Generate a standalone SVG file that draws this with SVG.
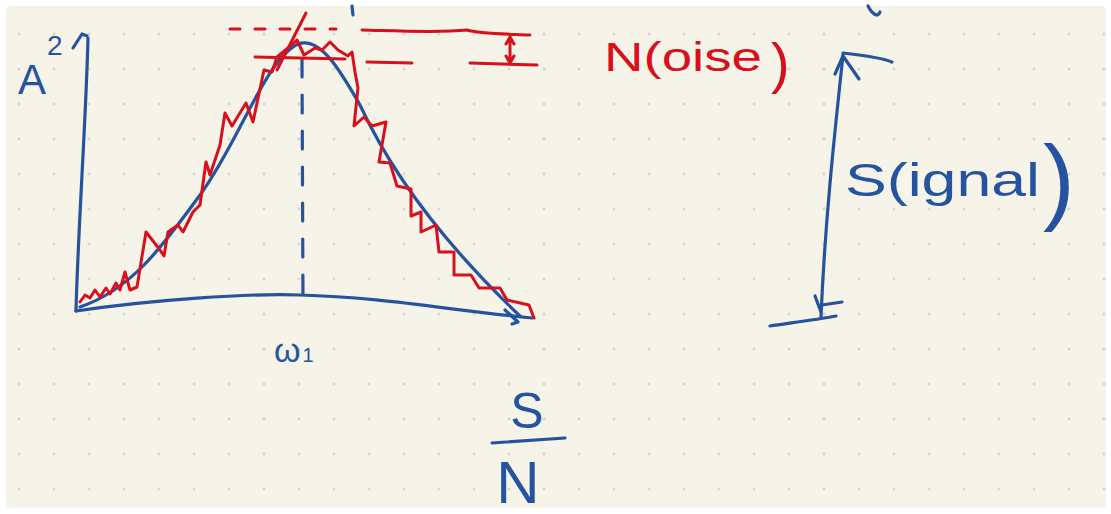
<svg xmlns="http://www.w3.org/2000/svg" width="1111" height="514" viewBox="0 0 1111 514">
<defs>
<pattern id="dots" x="1.5" y="16.5" width="35" height="35" patternUnits="userSpaceOnUse">
<circle cx="17.5" cy="17.5" r="1.2" fill="#c9c8bd"/>
</pattern>
<style>
.b{fill:none;stroke:#2553a0;stroke-width:3.2;stroke-linecap:round;stroke-linejoin:round}
.r{fill:none;stroke:#d8101c;stroke-width:3;stroke-linecap:round;stroke-linejoin:round}
.tb{fill:#2553a0;font-family:"Liberation Sans","DejaVu Sans",sans-serif}
.tr{fill:#d8101c;font-family:"Liberation Sans","DejaVu Sans",sans-serif}
</style>
</defs>
<rect width="1111" height="514" fill="#ffffff"/>
<rect x="6" y="6" width="1100" height="502" rx="4" fill="#f6f4e8"/>
<rect x="6" y="6" width="1100" height="502" fill="url(#dots)"/>

<g id="axes">
<path class="b" d="M88,38 C86,120 78,230 76,311"/>
<path class="b" d="M73,48 L82,34 L87,36"/>
<path class="b" d="M76,311 C150,300 250,293 300,295 C380,297 450,310 532,318"/>
<path class="b" d="M505,310 L518,322 L512,324"/>
<path class="b" d="M302,59 L303,305" stroke-dasharray="18 18"/>
<path class="b" d="M352,6 L353,15"/>
<path class="b" d="M868,6 C872,14 878,18 880,12"/>
</g>

<g id="signal-curve">
<path class="b" d="M80,307 C130,290 160,250 200,195 C240,140 265,60 298,44 C320,36 340,70 360,105 C390,170 440,240 520,316"/>
</g>

<g id="noisy-curve">
<path class="r" d="M80,302 L85,295 L90,298 L95,290 L100,297 L106,288 L110,294 L116,283 L120,290 L125,272 L130,290 L137,287 L146,232 L160,250 L164,256 L168,232 L178,225 L183,232 L193,212 L200,205 L206,162 L210,175 L220,145 L225,113 L232,126 L246,103 L253,122 L264,70 L272,72 L277,57 L288,48 L297,40 L304,55 L315,48 L322,50 L330,42 L338,50 L348,56 L352,52 L355,72 L358,88 L354,126 L364,117 L372,126 L386,122 L379,162 L390,163 L397,186 L411,189 L411,216 L421,212 L421,232 L436,225 L439,252 L454,252 L454,275 L471,275 L479,288 L500,288 L507,300 L529,305 L534,318"/>
<path class="r" d="M277,70 L306,13"/>
</g>

<g id="noise-band">
<path class="r" d="M230,29 L336,29" stroke-dasharray="10 15"/>
<path class="r" d="M362,30 C400,31 440,33 467,30 C480,34 510,34 530,35"/>
<path class="r" d="M255,57 L345,59"/>
<path class="r" d="M367,62 L412,63"/>
<path class="r" d="M470,63 L537,65"/>
<path class="r" d="M510,38 L510,62 M506,44 L510,37 L514,44 M506,56 L510,63 L514,56"/>
</g>

<g id="signal-arrow">
<path class="b" d="M843,55 C835,130 825,220 821,317"/>
<path class="b" d="M843,53 C860,55 880,57 892,62"/>
<path class="b" d="M835,74 L843,56 L859,79"/>
<path class="b" d="M815,296 L821,312 M822,305 L842,302"/>
<path class="b" d="M770,326 C790,323 815,320 836,316"/>
</g>

<g id="labels">
<text class="tb" x="18" y="94" font-size="42">A</text>
<text class="tb" x="47" y="55" font-size="28">2</text>
<text class="tb" x="274" y="362" font-size="34">ω<tspan font-size="20" dx="2">1</tspan></text>
<text class="tr" x="604" y="71" font-size="40" textLength="158" lengthAdjust="spacingAndGlyphs">N(oise</text>
<text class="tr" x="771" y="82" font-size="56" font-weight="300">)</text>
<text class="tb" x="845" y="196" font-size="46" textLength="195" lengthAdjust="spacingAndGlyphs">S(ignal</text>
<text class="tb" x="1043" y="212" font-size="95">)</text>
<text class="tb" x="527" y="428" font-size="50" text-anchor="middle">S</text>
<path class="b" d="M492,443 L565,438"/>
<text class="tb" x="518" y="503" font-size="60" text-anchor="middle">N</text>
</g>
</svg>
